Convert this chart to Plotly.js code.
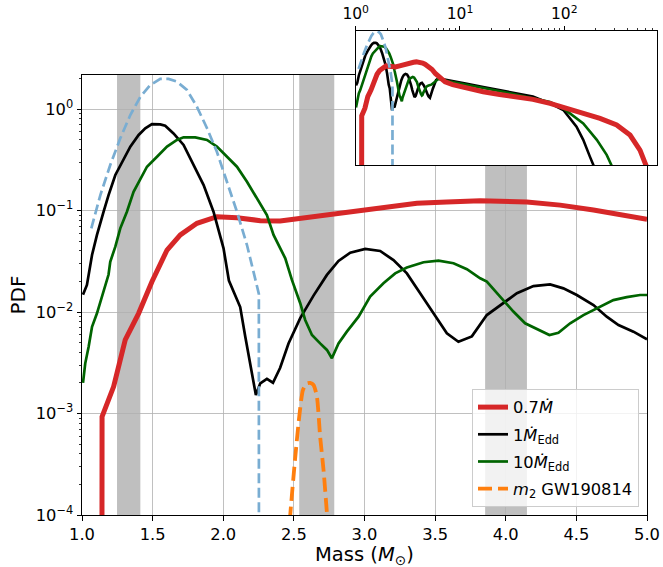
<!DOCTYPE html>
<html><head><meta charset="utf-8">
<script src="https://cdn.plot.ly/plotly-3.0.1.min.js"></script>
<style>html,body{margin:0;padding:0;background:#fff}#chart{width:663px;height:567px}</style>
</head><body><div id="chart"></div>
<script>
// ---- data ----
const redX = [1.14, 1.142, 1.224, 1.306, 1.401, 1.495, 1.602, 1.696, 1.814, 1.955, 2.097, 2.262, 2.403, 2.639, 2.875, 3.111, 3.371, 3.583, 3.819, 4.149, 4.385, 4.621, 4.810, 5.0];
const redY = [1e-7, 0.00093, 0.00184, 0.0053, 0.0097, 0.0199, 0.0408, 0.0574, 0.0748, 0.0869, 0.0849, 0.0794, 0.0788, 0.0869, 0.0973, 0.105, 0.118, 0.121, 0.125, 0.121, 0.113, 0.101, 0.0904, 0.0818];
const redTailX = [5.4, 5.8, 6.5, 7.2, 8.5, 11.6, 16.7, 24, 35, 50, 73, 105, 152, 220, 318, 427, 532, 617, 680];
const redTailY = [0.063, 0.0437, 0.0275, 0.0204, 0.0158, 0.0112, 0.0083, 0.00646, 0.00525, 0.00417, 0.00288, 0.0019, 0.00117, 0.00074, 0.000407, 0.000162, 4.17e-5, 1e-5, 3.2e-6];

const blackX = [1.007, 1.035, 1.071, 1.106, 1.153, 1.188, 1.236, 1.295, 1.342, 1.401, 1.448, 1.495, 1.554, 1.589, 1.648, 1.719, 1.790, 1.861, 1.931, 2.002, 2.040, 2.073, 2.12, 2.156, 2.191, 2.231, 2.262, 2.309, 2.352, 2.403, 2.462, 2.545, 2.639, 2.734, 2.816, 2.899, 3.005, 3.111, 3.205, 3.300, 3.394, 3.488, 3.583, 3.665, 3.760, 3.866, 3.984, 4.079, 4.196, 4.314, 4.408, 4.503, 4.621, 4.715, 4.798, 4.904, 5.0];
const blackY = [0.0148, 0.0185, 0.0365, 0.0574, 0.0973, 0.142, 0.224, 0.327, 0.426, 0.555, 0.646, 0.711, 0.706, 0.685, 0.575, 0.442, 0.281, 0.178, 0.0973, 0.0424, 0.0204, 0.0158, 0.0112, 0.00571, 0.00312, 0.00152, 0.00198, 0.00219, 0.00201, 0.00282, 0.0049, 0.0087, 0.0145, 0.0232, 0.0318, 0.0384, 0.0418, 0.0399, 0.0325, 0.0240, 0.0153, 0.0097, 0.00617, 0.00509, 0.00575, 0.00933, 0.0122, 0.0153, 0.0180, 0.0187, 0.0171, 0.0147, 0.0117, 0.0090, 0.00745, 0.0064, 0.00538];
const blackTailX = [5.15, 5.5, 5.9, 6.2, 8.0, 11, 16.7, 25, 35, 50, 73, 98, 131, 152, 176, 193, 210];
const blackTailY = [0.00479, 0.0112, 0.024, 0.0282, 0.0224, 0.0178, 0.0129, 0.00955, 0.00741, 0.00537, 0.00288, 0.00158, 0.000347, 0.000105, 2.29e-5, 1e-5, 4e-6];

const greenX = [1.007, 1.023, 1.047, 1.071, 1.106, 1.142, 1.188, 1.200, 1.236, 1.271, 1.318, 1.365, 1.413, 1.460, 1.531, 1.602, 1.672, 1.719, 1.802, 1.885, 1.955, 2.026, 2.097, 2.168, 2.238, 2.309, 2.356, 2.403, 2.439, 2.486, 2.545, 2.580, 2.628, 2.686, 2.734, 2.769, 2.816, 2.875, 2.958, 3.040, 3.134, 3.217, 3.300, 3.418, 3.524, 3.630, 3.725, 3.819, 3.866, 3.960, 4.054, 4.137, 4.220, 4.309, 4.373, 4.456, 4.550, 4.668, 4.762, 4.857, 4.951, 5.0];
const greenY = [0.002, 0.00312, 0.00455, 0.00716, 0.0097, 0.0145, 0.0234, 0.0313, 0.044, 0.0667, 0.0973, 0.153, 0.207, 0.27, 0.339, 0.426, 0.495, 0.526, 0.526, 0.495, 0.426, 0.339, 0.27, 0.192, 0.132, 0.0904, 0.0574, 0.0427, 0.0338, 0.0207, 0.0122, 0.00834, 0.00593, 0.00491, 0.00423, 0.0035, 0.00491, 0.0064, 0.009, 0.0142, 0.0192, 0.024, 0.0274, 0.0309, 0.0321, 0.0302, 0.0264, 0.0215, 0.0199, 0.0142, 0.0101, 0.00774, 0.00675, 0.00593, 0.00625, 0.00774, 0.00933, 0.0113, 0.0131, 0.014, 0.0147, 0.0147];
const greenTailX = [5.3, 5.7, 6.2, 8.0, 11, 16.7, 25, 35, 54, 73, 98, 152, 205, 255, 285, 310];
const greenTailY = [0.0158, 0.02, 0.0263, 0.0209, 0.0166, 0.0117, 0.0085, 0.00646, 0.00427, 0.00331, 0.00182, 0.000468, 0.000105, 2.69e-5, 1e-5, 4e-6];

const blueX = [1.066, 1.130, 1.200, 1.271, 1.342, 1.413, 1.483, 1.554, 1.613, 1.672, 1.743, 1.814, 1.885, 1.955, 2.026, 2.097, 2.168, 2.214, 2.232, 2.252, 2.253];
const blueY = [0.0667, 0.142, 0.281, 0.514, 0.873, 1.32, 1.72, 1.98, 1.98, 1.86, 1.54, 1.05, 0.646, 0.379, 0.192, 0.0973, 0.0457, 0.0249, 0.019, 0.0151, 1e-7];

const orangeX = [2.46, 2.479, 2.510, 2.538, 2.564, 2.592, 2.615, 2.639, 2.663, 2.686, 2.710, 2.734, 2.745];
const orangeY = [5.6e-5, 1.21e-4, 3.75e-4, 9.3e-4, 0.0017, 0.00198, 0.002, 0.00191, 0.00147, 5.9e-4, 2.77e-4, 1.04e-4, 6.3e-5];

const bandStarts = [1.248, 2.538, 3.854];
const bandEnds = [1.413, 2.786, 4.15];

const legendNames = ['0.7<i>Ṁ</i>', '1<i>Ṁ</i><sub>Edd</sub>', '10<i>Ṁ</i><sub>Edd</sub>', '<i>m</i><sub>2</sub> GW190814'];
const xTitle = 'Mass (<i>M</i><sub>⊙</sub>)';
const yTitle = 'PDF';
const yTickVals = [1e-4, 1e-3, 1e-2, 1e-1, 1];
const yTickText = ['10<sup>−4</sup>', '10<sup>−3</sup>', '10<sup>−2</sup>', '10<sup>−1</sup>', '10<sup>0</sup>'];
const x2TickVals = [1, 10, 100];
const x2TickText = ['10<sup>0</sup>', '10<sup>1</sup>', '10<sup>2</sup>'];

// ---- styles ----
const RED = '#d62728', BLACK = '#000000', GREEN = '#006400', BLUE = '#79add2', ORANGE = '#ff7f0e';
const FS = 16.3, TFS = 20;

const minorY = [];
for (let e = -4; e <= 0; e++) for (let m = 2; m <= 9; m++) { const v = m * Math.pow(10, e); if (v < 2.16) minorY.push(v); }
const minorX2 = [];
for (let e = 0; e <= 2; e++) for (let m = 2; m <= 9; m++) { const v = m * Math.pow(10, e); if (v < 774) minorX2.push(v); }

const traces = [
  {x: redX, y: redY, name: legendNames[0], legendgroup: 'a', mode: 'lines', line: {color: RED, width: 5}, xaxis: 'x', yaxis: 'y'},
  {x: blackX, y: blackY, name: legendNames[1], legendgroup: 'b', mode: 'lines', line: {color: BLACK, width: 2.7}, xaxis: 'x', yaxis: 'y'},
  {x: greenX, y: greenY, name: legendNames[2], legendgroup: 'c', mode: 'lines', line: {color: GREEN, width: 2.7}, xaxis: 'x', yaxis: 'y'},
  {x: blueX, y: blueY, name: 'blue', showlegend: false, mode: 'lines', line: {color: BLUE, width: 2.7, dash: '10px,4.5px'}, xaxis: 'x', yaxis: 'y'},
  {x: orangeX, y: orangeY, name: legendNames[3], legendgroup: 'd', mode: 'lines', line: {color: ORANGE, width: 3.8, dash: '14px,6px', shape: 'spline', smoothing: 0.6}, xaxis: 'x', yaxis: 'y'},
  // inset
  {x: blackX.concat(blackTailX), y: blackY.concat(blackTailY), showlegend: false, mode: 'lines', line: {color: BLACK, width: 2.6}, xaxis: 'x2', yaxis: 'y2'},
  {x: greenX.concat(greenTailX), y: greenY.concat(greenTailY), showlegend: false, mode: 'lines', line: {color: GREEN, width: 2.6}, xaxis: 'x2', yaxis: 'y2'},
  {x: redX.concat(redTailX), y: redY.concat(redTailY), showlegend: false, mode: 'lines', line: {color: RED, width: 5}, xaxis: 'x2', yaxis: 'y2'},
  {x: blueX, y: blueY, showlegend: false, mode: 'lines', line: {color: BLUE, width: 2.7, dash: '10px,4.5px'}, xaxis: 'x2', yaxis: 'y2'}
];

const shapes = bandStarts.map((s, i) => ({type: 'rect', xref: 'x', yref: 'y', x0: s, x1: bandEnds[i], y0: 1e-4, y1: 2.163,
  fillcolor: '#bfbfbf', line: {width: 0}, layer: 'below'}));
shapes.push({type: 'rect', xref: 'x2', yref: 'y2', x0: 1, x1: 775, y0: 1.07e-5, y1: 2.07, fillcolor: '#ffffff', line: {width: 0}, layer: 'below'});

const axisCommon = {showline: true, linecolor: '#000', linewidth: 1, mirror: true, zeroline: false,
  ticks: 'outside', ticklen: 4.5, tickwidth: 1, tickcolor: '#000'};

const layout = {
  width: 663, height: 567,
  margin: {l: 82, r: 6, t: 31, b: 52, pad: 0},
  paper_bgcolor: '#fff', plot_bgcolor: '#fff',
  font: {family: 'DejaVu Sans', size: FS, color: '#000'},
  showlegend: true,
  xaxis: Object.assign({}, axisCommon, {domain: [0, 0.98261], range: [1, 5], tick0: 1, dtick: 0.5, tickformat: '.1f',
    showgrid: true, gridcolor: '#b0b0b0', gridwidth: 0.8, anchor: 'y', tickfont: {size: FS}}),
  yaxis: Object.assign({}, axisCommon, {domain: [0, 0.90909], type: 'log', range: [-4, 0.335],
    tickmode: 'array', tickvals: yTickVals, ticktext: yTickText, tickfont: {size: FS},
    minor: {tickmode: 'array', tickvals: minorY, ticks: 'outside', ticklen: 2.5, tickwidth: 0.8, tickcolor: '#000', showgrid: false},
    showgrid: true, gridcolor: '#b0b0b0', gridwidth: 0.8, anchor: 'x',
    title: {text: yTitle, font: {size: TFS}, standoff: 4}}),
  xaxis2: Object.assign({}, axisCommon, {domain: [0.476, 1], type: 'log', range: [0, 2.889], anchor: 'y2', side: 'top',
    tickmode: 'array', tickvals: x2TickVals, ticktext: x2TickText, tickfont: {size: 15.5},
    minor: {tickmode: 'array', tickvals: minorX2, ticks: 'outside', ticklen: 2.5, tickwidth: 0.8, tickcolor: '#000', showgrid: false},
    showgrid: false}),
  yaxis2: Object.assign({}, axisCommon, {domain: [0.72314, 1], type: 'log', range: [-4.97, 0.316], anchor: 'x2',
    ticks: '', showticklabels: false, showgrid: false}),
  shapes: shapes,
  annotations: [{text: xTitle, xref: 'x domain', yref: 'paper', x: 0.5, y: -0.0558, xanchor: 'center', yanchor: 'top',
    showarrow: false, font: {size: 19.5}, borderpad: 0}],
  legend: {x: 0.9687, xanchor: 'right', y: 0.0165, yanchor: 'bottom', bgcolor: 'rgba(255,255,255,0.8)',
    bordercolor: '#cccccc', borderwidth: 1, font: {size: FS}, tracegroupgap: 3, traceorder: 'grouped'}
};

Plotly.newPlot('chart', traces, layout, {displayModeBar: false, staticPlot: true});
</script></body></html>
